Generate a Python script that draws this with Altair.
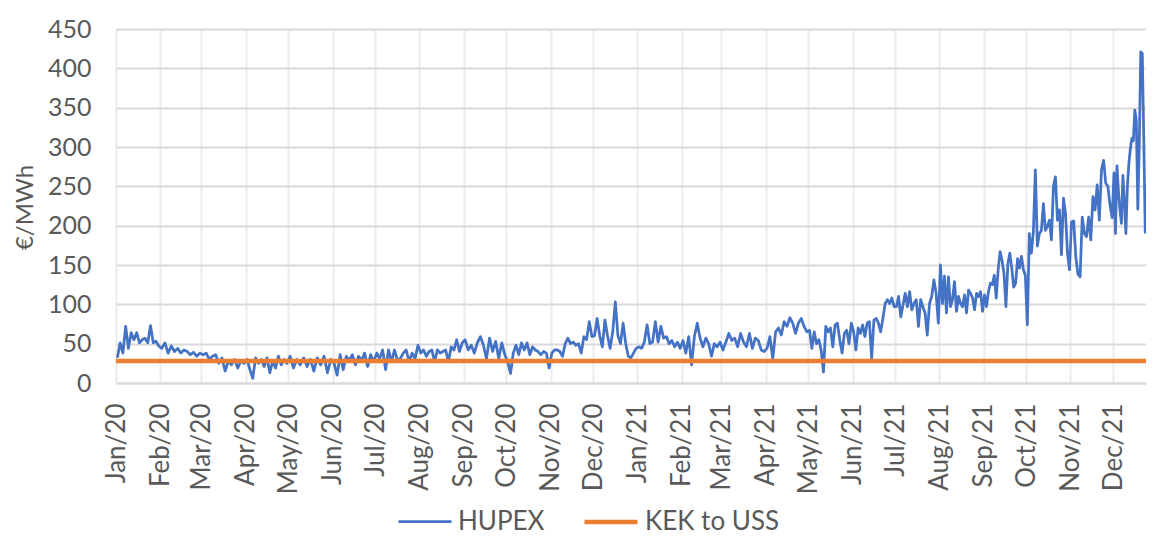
import altair as alt
import pandas as pd

# HUPEX daily base price (EUR/MWh)
jan20 = [32, 51, 38, 72, 44, 64, 55, 64, 51, 55, 57, 51, 73, 51, 53, 47]
feb20 = [44, 51, 38, 47, 40, 44, 38, 42, 40, 36, 39, 34, 38]
mar20 = [36, 38, 30, 34, 36, 25, 32, 15, 28, 23, 30, 19, 28, 25]
apr20 = [30, 17, 6, 32, 25, 30, 21, 32, 13, 28, 19, 34, 23, 30, 25]
may20 = [34, 19, 30, 23, 32, 21, 30, 15, 32, 23, 34, 13, 30]
jun20 = [25, 10, 36, 17, 34, 29, 36, 23, 34, 29, 38, 21, 36, 27]
jul20 = [38, 31, 42, 17, 42, 27, 42, 29, 31, 38, 42, 27, 38, 31, 48]
aug20 = [38, 42, 34, 40, 42, 27, 42, 38, 40, 42, 27, 46, 42, 55, 40, 51]
sep20 = [55, 42, 48, 38, 51, 59, 48, 31, 57, 40, 53, 31, 51, 36]
oct20 = [27, 12, 38, 48, 36, 51, 42, 51, 36, 46, 42, 40, 36, 40, 38, 19]
nov20 = [38, 42, 42, 40, 34, 50, 57, 50, 52, 48, 50, 38, 59, 55, 78, 59]
dec20 = [60, 82, 60, 46, 80, 60, 44, 65, 103, 60, 50, 76, 50, 34, 32, 38, 44]
jan21 = [46, 44, 52, 74, 50, 52, 78, 52, 72, 57, 59, 50, 54, 46, 52, 44]
feb21 = [54, 38, 59, 23, 59, 76, 57, 46, 57, 50, 34, 50, 46, 52]
mar21 = [42, 52, 63, 54, 57, 46, 63, 52, 46, 63, 44, 57, 54, 42, 40]
apr21 = [44, 59, 31, 65, 70, 61, 78, 72, 83, 76, 63, 76, 82, 72, 65]
may21 = [67, 44, 65, 50, 55, 42, 14, 72, 65, 70, 46, 74, 76, 55, 38, 63, 67, 50, 76]
jun21 = [65, 42, 70, 63, 74, 59, 76, 78, 31, 80, 82, 76, 65, 82, 101, 106, 101, 108, 97]
jul21 = [97, 110, 84, 99, 114, 97, 116, 93, 101, 106, 72, 106, 97, 89, 61, 101, 110, 131, 114, 76]
aug21 = [150, 101, 136, 89, 135, 97, 106, 129, 91, 110, 101, 97, 112, 89, 118, 114, 108, 93, 114, 110, 116, 91]
sep21 = [112, 97, 116, 127, 125, 137, 108, 144, 167, 156, 139, 97, 152, 165, 146, 122, 127, 158, 146, 161, 144, 137]
oct21 = [74, 190, 165, 192, 271, 174, 190, 194, 228, 194, 199, 207, 182, 250, 262, 207, 220, 163, 235, 216, 165, 144]
nov21 = [205, 206, 160, 138, 135, 211, 190, 186, 211, 182, 237, 220, 252, 207, 271, 283, 254, 250, 226, 210]
dec21 = [267, 190, 276, 243, 220, 203, 264, 230, 190, 250, 279, 298, 311, 308, 347, 334, 221, 304, 421, 419, 312, 190]

kek_to_uss = 28
series_names = ["HUPEX", "KEK to USS"]
series_colors = ["#4472C4", "#ED7D31"]
x_start = "2020-01-01"
x_end = "2021-12-24"

months = [
    (2020, 1, jan20), (2020, 2, feb20), (2020, 3, mar20), (2020, 4, apr20),
    (2020, 5, may20), (2020, 6, jun20), (2020, 7, jul20), (2020, 8, aug20),
    (2020, 9, sep20), (2020, 10, oct20), (2020, 11, nov20), (2020, 12, dec20),
    (2021, 1, jan21), (2021, 2, feb21), (2021, 3, mar21), (2021, 4, apr21),
    (2021, 5, may21), (2021, 6, jun21), (2021, 7, jul21), (2021, 8, aug21),
    (2021, 9, sep21), (2021, 10, oct21), (2021, 11, nov21), (2021, 12, dec21),
]

rows = []
for k, (yy, mm, vals) in enumerate(months):
    start = pd.Timestamp(year=yy, month=mm, day=1)
    end = pd.Timestamp(x_end) if k == len(months) - 1 else start + pd.offsets.MonthBegin(1)
    step = (end - start) / len(vals)
    for i, v in enumerate(vals):
        rows.append({"date": start + step * (i + 0.5), "value": v, "series": series_names[0]})
rows.append({"date": pd.Timestamp(x_start), "value": kek_to_uss, "series": series_names[1]})
rows.append({"date": pd.Timestamp(x_end), "value": kek_to_uss, "series": series_names[1]})
df = pd.DataFrame(rows)

FONT = "Lato"
GRAY = "#595959"

chart = alt.Chart(df).mark_line(clip=True, strokeJoin="round").encode(
    x=alt.X(
        "date:T",
        scale=alt.Scale(domain=[alt.DateTime(year=2020, month=1, date=1),
                                alt.DateTime(year=2021, month=12, date=24)]),
        axis=alt.Axis(
            title=None, format="%b/%y", tickCount={"interval": "month", "step": 1},
            labelAngle=270, labelPadding=20, ticks=False,
            domain=True, domainColor="#d9d9d9", domainWidth=2,
            grid=True, gridColor="#ececec", gridWidth=2,
            labelFontSize=26, labelColor=GRAY, labelFont=FONT,
            labelOverlap=False, labelFlush=False,
        ),
    ),
    y=alt.Y(
        "value:Q",
        scale=alt.Scale(domain=[0, 450], nice=False),
        axis=alt.Axis(
            title="€/MWh", values=list(range(0, 451, 50)), ticks=False, domain=False,
            gridColor="#d9d9d9", gridWidth=2, labelPadding=25,
            labelFontSize=25, labelColor=GRAY, labelFont=FONT,
            titleFontSize=24, titleColor=GRAY, titleFont=FONT, titleFontWeight="normal",
            titleAngle=270, titleX=-91, titleY=178, titleAlign="center", titleBaseline="middle",
        ),
    ),
    color=alt.Color(
        "series:N",
        scale=alt.Scale(domain=series_names, range=series_colors),
        legend=alt.Legend(
            title=None, orient="none", legendX=281, legendY=464, direction="horizontal",
            symbolType="stroke", symbolSize=2809, symbolStrokeWidth=3,
            labelFontSize=26, labelColor=GRAY, labelFont=FONT,
            columnPadding=30, labelOffset=5,
        ),
    ),
    strokeWidth=alt.StrokeWidth(
        "series:N", scale=alt.Scale(domain=series_names, range=[2.75, 4.5]), legend=None
    ),
).properties(
    width=1030, height=354, autosize="none",
    padding={"left": 108, "top": 21, "right": 0, "bottom": 153},
).configure_view(stroke=None)

chart.save("out.html", embed_options={"renderer": "svg", "actions": False})
